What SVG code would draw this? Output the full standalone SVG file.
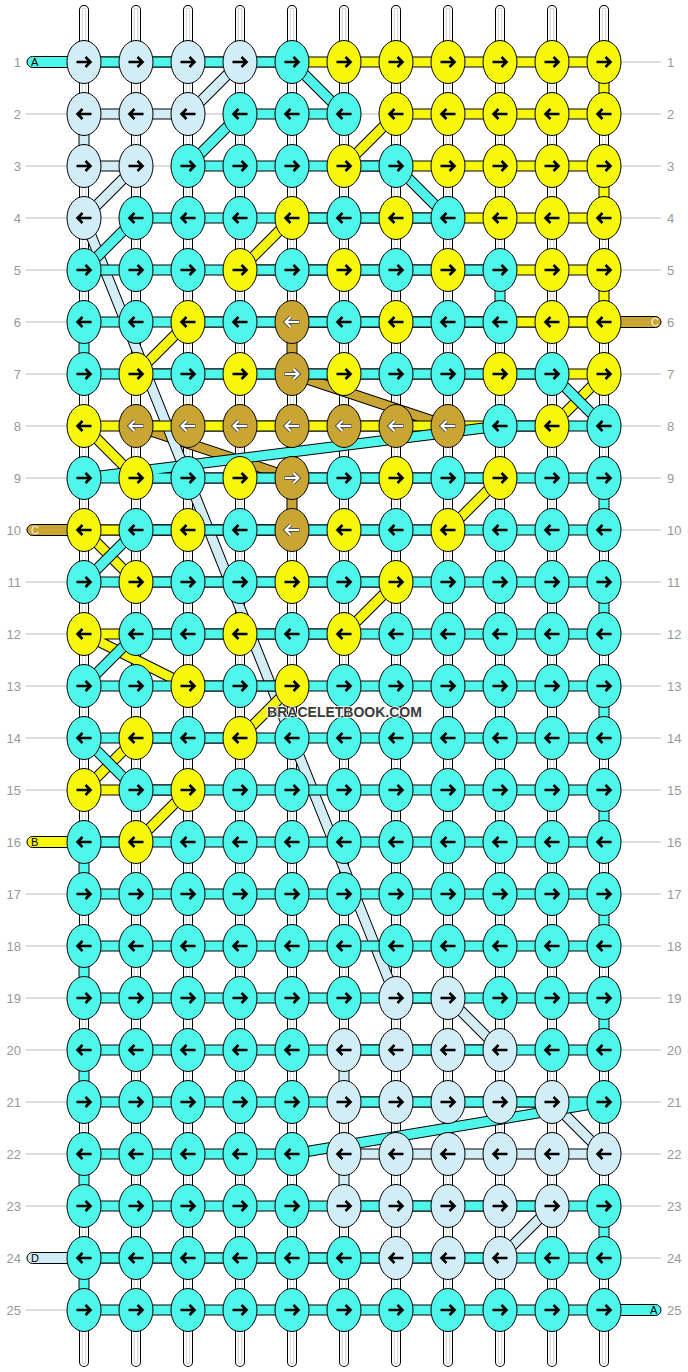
<svg xmlns="http://www.w3.org/2000/svg" xmlns:xlink="http://www.w3.org/1999/xlink" width="688" height="1372" viewBox="0 0 688 1372">
<style>
.rl{fill:none;stroke:#bdbdbd;stroke-width:1}
.num{font-family:"Liberation Sans",Arial,sans-serif;font-size:13px;fill:#999}
.w{fill:none;stroke-linecap:round}
.so{fill:none;stroke:#000;stroke-width:11;stroke-linejoin:round}
.si{fill:none;stroke-width:9;stroke-linejoin:round}
.pill{stroke:#000;stroke-width:1}
.pt{font-family:"Liberation Sans",Arial,sans-serif;font-size:11px}
.wm{font-family:"Liberation Sans",Arial,sans-serif;font-size:14px;font-weight:bold;fill:#3a3a3a;stroke:#fff;stroke-width:1.5;paint-order:stroke}
</style>
<defs>
<ellipse id="eC" rx="17" ry="21.5" fill="#4ef7ea" stroke="#000" stroke-width="1"/>
<ellipse id="eY" rx="17" ry="21.5" fill="#f7f70c" stroke="#000" stroke-width="1"/>
<ellipse id="eL" rx="17" ry="21.5" fill="#d3edf6" stroke="#000" stroke-width="1"/>
<ellipse id="eG" rx="17" ry="21.5" fill="#c9a633" stroke="#000" stroke-width="1"/>
<path id="aR" d="M-7.5,0H6M1.5,-5L6.5,0L1.5,5" fill="none" stroke="#000" stroke-width="2.6"/>
<path id="aL" d="M7.5,0H-6M-1.5,-5L-6.5,0L-1.5,5" fill="none" stroke="#000" stroke-width="2.6"/>
<g id="gR"><path d="M-7.5,0H6M1.5,-5L6.5,0L1.5,5" fill="none" stroke="#555" stroke-width="4"/><path d="M-7,0H5.5M1.5,-5L6.5,0L1.5,5" fill="none" stroke="#fff" stroke-width="2"/></g>
<g id="gL"><path d="M7.5,0H-6M-1.5,-5L-6.5,0L-1.5,5" fill="none" stroke="#555" stroke-width="4"/><path d="M7,0H-5.5M-1.5,-5L-6.5,0L-1.5,5" fill="none" stroke="#fff" stroke-width="2"/></g>
</defs>
<rect width="688" height="1372" fill="#fff"/>
<g id="guides">
<path class="rl" d="M26,62H661M26,114H661M26,166H661M26,218H661M26,270H661M26,322H661M26,374H661M26,426H661M26,478H661M26,530H661M26,582H661M26,634H661M26,686H661M26,738H661M26,790H661M26,842H661M26,894H661M26,946H661M26,998H661M26,1050H661M26,1102H661M26,1154H661M26,1206H661M26,1258H661M26,1310H661"/>
<g class="num" text-anchor="end">
<text x="21" y="66.5">1</text><text x="21" y="118.5">2</text><text x="21" y="170.5">3</text><text x="21" y="222.5">4</text><text x="21" y="274.5">5</text><text x="21" y="326.5">6</text><text x="21" y="378.5">7</text><text x="21" y="430.5">8</text><text x="21" y="482.5">9</text><text x="21" y="534.5">10</text><text x="21" y="586.5">11</text><text x="21" y="638.5">12</text><text x="21" y="690.5">13</text><text x="21" y="742.5">14</text><text x="21" y="794.5">15</text><text x="21" y="846.5">16</text><text x="21" y="898.5">17</text><text x="21" y="950.5">18</text><text x="21" y="1002.5">19</text><text x="21" y="1054.5">20</text><text x="21" y="1106.5">21</text><text x="21" y="1158.5">22</text><text x="21" y="1210.5">23</text><text x="21" y="1262.5">24</text><text x="21" y="1314.5">25</text>
</g>
<g class="num">
<text x="667" y="66.5">1</text><text x="667" y="118.5">2</text><text x="667" y="170.5">3</text><text x="667" y="222.5">4</text><text x="667" y="274.5">5</text><text x="667" y="326.5">6</text><text x="667" y="378.5">7</text><text x="667" y="430.5">8</text><text x="667" y="482.5">9</text><text x="667" y="534.5">10</text><text x="667" y="586.5">11</text><text x="667" y="638.5">12</text><text x="667" y="690.5">13</text><text x="667" y="742.5">14</text><text x="667" y="794.5">15</text><text x="667" y="846.5">16</text><text x="667" y="898.5">17</text><text x="667" y="950.5">18</text><text x="667" y="1002.5">19</text><text x="667" y="1054.5">20</text><text x="667" y="1106.5">21</text><text x="667" y="1158.5">22</text><text x="667" y="1210.5">23</text><text x="667" y="1262.5">24</text><text x="667" y="1314.5">25</text>
</g>
</g>
<g id="warps">
<path class="w" stroke="#000" stroke-width="10" d="M84,10V1362M136,10V1362M188,10V1362M240,10V1362M292,10V1362M344,10V1362M396,10V1362M448,10V1362M500,10V1362M552,10V1362M604,10V1362"/>
<path class="w" stroke="#fff" stroke-width="8" d="M84,10V1362M136,10V1362M188,10V1362M240,10V1362M292,10V1362M344,10V1362M396,10V1362M448,10V1362M500,10V1362M552,10V1362M604,10V1362"/>
<path class="w" stroke="#d0d0d0" stroke-width="4.5" d="M84,10V1362M136,10V1362M188,10V1362M240,10V1362M292,10V1362M344,10V1362M396,10V1362M448,10V1362M500,10V1362M552,10V1362M604,10V1362"/>
<path class="w" stroke="#fff" stroke-width="2.5" d="M84,10V1362M136,10V1362M188,10V1362M240,10V1362M292,10V1362M344,10V1362M396,10V1362M448,10V1362M500,10V1362M552,10V1362M604,10V1362"/>
</g>
<g id="connectors">
<g id="str-gold">
<polyline class="so" points="604,322 292,322 292,374 448,426 136,426 292,478 292,530 84,530"/>
<polyline class="si" stroke="#c9a633" points="604,322 292,322 292,374 448,426 136,426 292,478 292,530 84,530"/>
</g>
<g id="str-lightblue">
<polyline class="so" points="84,62 240,62 188,114 84,114 84,166 136,166 84,218 396,998 448,998 500,1050 344,1050 344,1102 552,1102 604,1154 344,1154 344,1206 552,1206 500,1258 396,1258 84,1258"/>
<polyline class="si" stroke="#d3edf6" points="84,62 240,62 188,114 84,114 84,166 136,166 84,218 396,998 448,998 500,1050 344,1050 344,1102 552,1102 604,1154 344,1154 344,1206 552,1206 500,1258 396,1258 84,1258"/>
</g>
<g id="str-yellow">
<polyline class="so" points="240,62 604,62 604,114 396,114 344,166 604,166 604,218 292,218 240,270 604,270 604,322 188,322 136,374 604,374 552,426 84,426 136,478 500,478 448,530 84,530 136,582 396,582 344,634 84,634 188,686 292,686 240,738 136,738 84,790 188,790 136,842 84,842"/>
<polyline class="si" stroke="#f7f70c" points="240,62 604,62 604,114 396,114 344,166 604,166 604,218 292,218 240,270 604,270 604,322 188,322 136,374 604,374 552,426 84,426 136,478 500,478 448,530 84,530 136,582 396,582 344,634 84,634 188,686 292,686 240,738 136,738 84,790 188,790 136,842 84,842"/>
</g>
<g id="str-cyan">
<polyline class="so" points="84,62 292,62 344,114 240,114 188,166 396,166 448,218 136,218 84,270 500,270 500,322 84,322 84,374 552,374 604,426 500,426 84,478 604,478 604,530 136,530 84,582 604,582 604,634 136,634 84,686 604,686 604,738 84,738 136,790 604,790 604,842 84,842 84,894 604,894 604,946 84,946 84,998 604,998 604,1050 84,1050 84,1102 604,1102 292,1154 84,1154 84,1206 604,1206 604,1258 84,1258 84,1310 604,1310"/>
<polyline class="si" stroke="#4ef7ea" points="84,62 292,62 344,114 240,114 188,166 396,166 448,218 136,218 84,270 500,270 500,322 84,322 84,374 552,374 604,426 500,426 84,478 604,478 604,530 136,530 84,582 604,582 604,634 136,634 84,686 604,686 604,738 84,738 136,790 604,790 604,842 84,842 84,894 604,894 604,946 84,946 84,998 604,998 604,1050 84,1050 84,1102 604,1102 292,1154 84,1154 84,1206 604,1206 604,1258 84,1258 84,1310 604,1310"/>
</g>
<g id="ends">
<rect class="pill" x="27" y="56.5" width="52" height="11" rx="5.5" fill="#4ef7ea"/><text class="pt" x="31" y="66">A</text>
<rect class="pill" x="27" y="524.5" width="52" height="11" rx="5.5" fill="#c9a633"/><text class="pt" x="31" y="534" fill="#f4f4f4">C</text>
<rect class="pill" x="27" y="836.5" width="52" height="11" rx="5.5" fill="#f7f70c"/><text class="pt" x="31" y="846">B</text>
<rect class="pill" x="27" y="1252.5" width="52" height="11" rx="5.5" fill="#d3edf6"/><text class="pt" x="31" y="1262">D</text>
<rect class="pill" x="598" y="316.5" width="63" height="11" rx="5.5" fill="#c9a633"/><text class="pt" x="651" y="326" fill="#f4f4f4">C</text>
<rect class="pill" x="598" y="1304.5" width="63" height="11" rx="5.5" fill="#4ef7ea"/><text class="pt" x="650" y="1314">A</text>
</g>
</g>
<g id="knots">
<g id="k1-1" transform="translate(84,62)"><use href="#eL"/><use href="#aR"/></g>
<g id="k1-2" transform="translate(136,62)"><use href="#eL"/><use href="#aR"/></g>
<g id="k1-3" transform="translate(188,62)"><use href="#eL"/><use href="#aR"/></g>
<g id="k1-4" transform="translate(240,62)"><use href="#eL"/><use href="#aR"/></g>
<g id="k1-5" transform="translate(292,62)"><use href="#eC"/><use href="#aR"/></g>
<g id="k1-6" transform="translate(344,62)"><use href="#eY"/><use href="#aR"/></g>
<g id="k1-7" transform="translate(396,62)"><use href="#eY"/><use href="#aR"/></g>
<g id="k1-8" transform="translate(448,62)"><use href="#eY"/><use href="#aR"/></g>
<g id="k1-9" transform="translate(500,62)"><use href="#eY"/><use href="#aR"/></g>
<g id="k1-10" transform="translate(552,62)"><use href="#eY"/><use href="#aR"/></g>
<g id="k1-11" transform="translate(604,62)"><use href="#eY"/><use href="#aR"/></g>

<g id="k2-1" transform="translate(84,114)"><use href="#eL"/><use href="#aL"/></g>
<g id="k2-2" transform="translate(136,114)"><use href="#eL"/><use href="#aL"/></g>
<g id="k2-3" transform="translate(188,114)"><use href="#eL"/><use href="#aL"/></g>
<g id="k2-4" transform="translate(240,114)"><use href="#eC"/><use href="#aL"/></g>
<g id="k2-5" transform="translate(292,114)"><use href="#eC"/><use href="#aL"/></g>
<g id="k2-6" transform="translate(344,114)"><use href="#eC"/><use href="#aL"/></g>
<g id="k2-7" transform="translate(396,114)"><use href="#eY"/><use href="#aL"/></g>
<g id="k2-8" transform="translate(448,114)"><use href="#eY"/><use href="#aL"/></g>
<g id="k2-9" transform="translate(500,114)"><use href="#eY"/><use href="#aL"/></g>
<g id="k2-10" transform="translate(552,114)"><use href="#eY"/><use href="#aL"/></g>
<g id="k2-11" transform="translate(604,114)"><use href="#eY"/><use href="#aL"/></g>

<g id="k3-1" transform="translate(84,166)"><use href="#eL"/><use href="#aR"/></g>
<g id="k3-2" transform="translate(136,166)"><use href="#eL"/><use href="#aR"/></g>
<g id="k3-3" transform="translate(188,166)"><use href="#eC"/><use href="#aR"/></g>
<g id="k3-4" transform="translate(240,166)"><use href="#eC"/><use href="#aR"/></g>
<g id="k3-5" transform="translate(292,166)"><use href="#eC"/><use href="#aR"/></g>
<g id="k3-6" transform="translate(344,166)"><use href="#eY"/><use href="#aR"/></g>
<g id="k3-7" transform="translate(396,166)"><use href="#eC"/><use href="#aR"/></g>
<g id="k3-8" transform="translate(448,166)"><use href="#eY"/><use href="#aR"/></g>
<g id="k3-9" transform="translate(500,166)"><use href="#eY"/><use href="#aR"/></g>
<g id="k3-10" transform="translate(552,166)"><use href="#eY"/><use href="#aR"/></g>
<g id="k3-11" transform="translate(604,166)"><use href="#eY"/><use href="#aR"/></g>

<g id="k4-1" transform="translate(84,218)"><use href="#eL"/><use href="#aL"/></g>
<g id="k4-2" transform="translate(136,218)"><use href="#eC"/><use href="#aL"/></g>
<g id="k4-3" transform="translate(188,218)"><use href="#eC"/><use href="#aL"/></g>
<g id="k4-4" transform="translate(240,218)"><use href="#eC"/><use href="#aL"/></g>
<g id="k4-5" transform="translate(292,218)"><use href="#eY"/><use href="#aL"/></g>
<g id="k4-6" transform="translate(344,218)"><use href="#eC"/><use href="#aL"/></g>
<g id="k4-7" transform="translate(396,218)"><use href="#eY"/><use href="#aL"/></g>
<g id="k4-8" transform="translate(448,218)"><use href="#eC"/><use href="#aL"/></g>
<g id="k4-9" transform="translate(500,218)"><use href="#eY"/><use href="#aL"/></g>
<g id="k4-10" transform="translate(552,218)"><use href="#eY"/><use href="#aL"/></g>
<g id="k4-11" transform="translate(604,218)"><use href="#eY"/><use href="#aL"/></g>

<g id="k5-1" transform="translate(84,270)"><use href="#eC"/><use href="#aR"/></g>
<g id="k5-2" transform="translate(136,270)"><use href="#eC"/><use href="#aR"/></g>
<g id="k5-3" transform="translate(188,270)"><use href="#eC"/><use href="#aR"/></g>
<g id="k5-4" transform="translate(240,270)"><use href="#eY"/><use href="#aR"/></g>
<g id="k5-5" transform="translate(292,270)"><use href="#eC"/><use href="#aR"/></g>
<g id="k5-6" transform="translate(344,270)"><use href="#eY"/><use href="#aR"/></g>
<g id="k5-7" transform="translate(396,270)"><use href="#eC"/><use href="#aR"/></g>
<g id="k5-8" transform="translate(448,270)"><use href="#eY"/><use href="#aR"/></g>
<g id="k5-9" transform="translate(500,270)"><use href="#eC"/><use href="#aR"/></g>
<g id="k5-10" transform="translate(552,270)"><use href="#eY"/><use href="#aR"/></g>
<g id="k5-11" transform="translate(604,270)"><use href="#eY"/><use href="#aR"/></g>

<g id="k6-1" transform="translate(84,322)"><use href="#eC"/><use href="#aL"/></g>
<g id="k6-2" transform="translate(136,322)"><use href="#eC"/><use href="#aL"/></g>
<g id="k6-3" transform="translate(188,322)"><use href="#eY"/><use href="#aL"/></g>
<g id="k6-4" transform="translate(240,322)"><use href="#eC"/><use href="#aL"/></g>
<g id="k6-5" transform="translate(292,322)"><use href="#eG"/><use href="#gL"/></g>
<g id="k6-6" transform="translate(344,322)"><use href="#eC"/><use href="#aL"/></g>
<g id="k6-7" transform="translate(396,322)"><use href="#eY"/><use href="#aL"/></g>
<g id="k6-8" transform="translate(448,322)"><use href="#eC"/><use href="#aL"/></g>
<g id="k6-9" transform="translate(500,322)"><use href="#eC"/><use href="#aL"/></g>
<g id="k6-10" transform="translate(552,322)"><use href="#eY"/><use href="#aL"/></g>
<g id="k6-11" transform="translate(604,322)"><use href="#eY"/><use href="#aL"/></g>

<g id="k7-1" transform="translate(84,374)"><use href="#eC"/><use href="#aR"/></g>
<g id="k7-2" transform="translate(136,374)"><use href="#eY"/><use href="#aR"/></g>
<g id="k7-3" transform="translate(188,374)"><use href="#eC"/><use href="#aR"/></g>
<g id="k7-4" transform="translate(240,374)"><use href="#eY"/><use href="#aR"/></g>
<g id="k7-5" transform="translate(292,374)"><use href="#eG"/><use href="#gR"/></g>
<g id="k7-6" transform="translate(344,374)"><use href="#eY"/><use href="#aR"/></g>
<g id="k7-7" transform="translate(396,374)"><use href="#eC"/><use href="#aR"/></g>
<g id="k7-8" transform="translate(448,374)"><use href="#eC"/><use href="#aR"/></g>
<g id="k7-9" transform="translate(500,374)"><use href="#eY"/><use href="#aR"/></g>
<g id="k7-10" transform="translate(552,374)"><use href="#eC"/><use href="#aR"/></g>
<g id="k7-11" transform="translate(604,374)"><use href="#eY"/><use href="#aR"/></g>

<g id="k8-1" transform="translate(84,426)"><use href="#eY"/><use href="#aL"/></g>
<g id="k8-2" transform="translate(136,426)"><use href="#eG"/><use href="#gL"/></g>
<g id="k8-3" transform="translate(188,426)"><use href="#eG"/><use href="#gL"/></g>
<g id="k8-4" transform="translate(240,426)"><use href="#eG"/><use href="#gL"/></g>
<g id="k8-5" transform="translate(292,426)"><use href="#eG"/><use href="#gL"/></g>
<g id="k8-6" transform="translate(344,426)"><use href="#eG"/><use href="#gL"/></g>
<g id="k8-7" transform="translate(396,426)"><use href="#eG"/><use href="#gL"/></g>
<g id="k8-8" transform="translate(448,426)"><use href="#eG"/><use href="#gL"/></g>
<g id="k8-9" transform="translate(500,426)"><use href="#eC"/><use href="#aL"/></g>
<g id="k8-10" transform="translate(552,426)"><use href="#eY"/><use href="#aL"/></g>
<g id="k8-11" transform="translate(604,426)"><use href="#eC"/><use href="#aL"/></g>

<g id="k9-1" transform="translate(84,478)"><use href="#eC"/><use href="#aR"/></g>
<g id="k9-2" transform="translate(136,478)"><use href="#eY"/><use href="#aR"/></g>
<g id="k9-3" transform="translate(188,478)"><use href="#eC"/><use href="#aR"/></g>
<g id="k9-4" transform="translate(240,478)"><use href="#eY"/><use href="#aR"/></g>
<g id="k9-5" transform="translate(292,478)"><use href="#eG"/><use href="#gR"/></g>
<g id="k9-6" transform="translate(344,478)"><use href="#eC"/><use href="#aR"/></g>
<g id="k9-7" transform="translate(396,478)"><use href="#eY"/><use href="#aR"/></g>
<g id="k9-8" transform="translate(448,478)"><use href="#eC"/><use href="#aR"/></g>
<g id="k9-9" transform="translate(500,478)"><use href="#eY"/><use href="#aR"/></g>
<g id="k9-10" transform="translate(552,478)"><use href="#eC"/><use href="#aR"/></g>
<g id="k9-11" transform="translate(604,478)"><use href="#eC"/><use href="#aR"/></g>

<g id="k10-1" transform="translate(84,530)"><use href="#eY"/><use href="#aL"/></g>
<g id="k10-2" transform="translate(136,530)"><use href="#eC"/><use href="#aL"/></g>
<g id="k10-3" transform="translate(188,530)"><use href="#eY"/><use href="#aL"/></g>
<g id="k10-4" transform="translate(240,530)"><use href="#eC"/><use href="#aL"/></g>
<g id="k10-5" transform="translate(292,530)"><use href="#eG"/><use href="#gL"/></g>
<g id="k10-6" transform="translate(344,530)"><use href="#eY"/><use href="#aL"/></g>
<g id="k10-7" transform="translate(396,530)"><use href="#eC"/><use href="#aL"/></g>
<g id="k10-8" transform="translate(448,530)"><use href="#eY"/><use href="#aL"/></g>
<g id="k10-9" transform="translate(500,530)"><use href="#eC"/><use href="#aL"/></g>
<g id="k10-10" transform="translate(552,530)"><use href="#eC"/><use href="#aL"/></g>
<g id="k10-11" transform="translate(604,530)"><use href="#eC"/><use href="#aL"/></g>

<g id="k11-1" transform="translate(84,582)"><use href="#eC"/><use href="#aR"/></g>
<g id="k11-2" transform="translate(136,582)"><use href="#eY"/><use href="#aR"/></g>
<g id="k11-3" transform="translate(188,582)"><use href="#eC"/><use href="#aR"/></g>
<g id="k11-4" transform="translate(240,582)"><use href="#eC"/><use href="#aR"/></g>
<g id="k11-5" transform="translate(292,582)"><use href="#eY"/><use href="#aR"/></g>
<g id="k11-6" transform="translate(344,582)"><use href="#eC"/><use href="#aR"/></g>
<g id="k11-7" transform="translate(396,582)"><use href="#eY"/><use href="#aR"/></g>
<g id="k11-8" transform="translate(448,582)"><use href="#eC"/><use href="#aR"/></g>
<g id="k11-9" transform="translate(500,582)"><use href="#eC"/><use href="#aR"/></g>
<g id="k11-10" transform="translate(552,582)"><use href="#eC"/><use href="#aR"/></g>
<g id="k11-11" transform="translate(604,582)"><use href="#eC"/><use href="#aR"/></g>

<g id="k12-1" transform="translate(84,634)"><use href="#eY"/><use href="#aL"/></g>
<g id="k12-2" transform="translate(136,634)"><use href="#eC"/><use href="#aL"/></g>
<g id="k12-3" transform="translate(188,634)"><use href="#eC"/><use href="#aL"/></g>
<g id="k12-4" transform="translate(240,634)"><use href="#eY"/><use href="#aL"/></g>
<g id="k12-5" transform="translate(292,634)"><use href="#eC"/><use href="#aL"/></g>
<g id="k12-6" transform="translate(344,634)"><use href="#eY"/><use href="#aL"/></g>
<g id="k12-7" transform="translate(396,634)"><use href="#eC"/><use href="#aL"/></g>
<g id="k12-8" transform="translate(448,634)"><use href="#eC"/><use href="#aL"/></g>
<g id="k12-9" transform="translate(500,634)"><use href="#eC"/><use href="#aL"/></g>
<g id="k12-10" transform="translate(552,634)"><use href="#eC"/><use href="#aL"/></g>
<g id="k12-11" transform="translate(604,634)"><use href="#eC"/><use href="#aL"/></g>

<g id="k13-1" transform="translate(84,686)"><use href="#eC"/><use href="#aR"/></g>
<g id="k13-2" transform="translate(136,686)"><use href="#eC"/><use href="#aR"/></g>
<g id="k13-3" transform="translate(188,686)"><use href="#eY"/><use href="#aR"/></g>
<g id="k13-4" transform="translate(240,686)"><use href="#eC"/><use href="#aR"/></g>
<g id="k13-5" transform="translate(292,686)"><use href="#eY"/><use href="#aR"/></g>
<g id="k13-6" transform="translate(344,686)"><use href="#eC"/><use href="#aR"/></g>
<g id="k13-7" transform="translate(396,686)"><use href="#eC"/><use href="#aR"/></g>
<g id="k13-8" transform="translate(448,686)"><use href="#eC"/><use href="#aR"/></g>
<g id="k13-9" transform="translate(500,686)"><use href="#eC"/><use href="#aR"/></g>
<g id="k13-10" transform="translate(552,686)"><use href="#eC"/><use href="#aR"/></g>
<g id="k13-11" transform="translate(604,686)"><use href="#eC"/><use href="#aR"/></g>

<g id="k14-1" transform="translate(84,738)"><use href="#eC"/><use href="#aL"/></g>
<g id="k14-2" transform="translate(136,738)"><use href="#eY"/><use href="#aL"/></g>
<g id="k14-3" transform="translate(188,738)"><use href="#eC"/><use href="#aL"/></g>
<g id="k14-4" transform="translate(240,738)"><use href="#eY"/><use href="#aL"/></g>
<g id="k14-5" transform="translate(292,738)"><use href="#eC"/><use href="#aL"/></g>
<g id="k14-6" transform="translate(344,738)"><use href="#eC"/><use href="#aL"/></g>
<g id="k14-7" transform="translate(396,738)"><use href="#eC"/><use href="#aL"/></g>
<g id="k14-8" transform="translate(448,738)"><use href="#eC"/><use href="#aL"/></g>
<g id="k14-9" transform="translate(500,738)"><use href="#eC"/><use href="#aL"/></g>
<g id="k14-10" transform="translate(552,738)"><use href="#eC"/><use href="#aL"/></g>
<g id="k14-11" transform="translate(604,738)"><use href="#eC"/><use href="#aL"/></g>

<g id="k15-1" transform="translate(84,790)"><use href="#eY"/><use href="#aR"/></g>
<g id="k15-2" transform="translate(136,790)"><use href="#eC"/><use href="#aR"/></g>
<g id="k15-3" transform="translate(188,790)"><use href="#eY"/><use href="#aR"/></g>
<g id="k15-4" transform="translate(240,790)"><use href="#eC"/><use href="#aR"/></g>
<g id="k15-5" transform="translate(292,790)"><use href="#eC"/><use href="#aR"/></g>
<g id="k15-6" transform="translate(344,790)"><use href="#eC"/><use href="#aR"/></g>
<g id="k15-7" transform="translate(396,790)"><use href="#eC"/><use href="#aR"/></g>
<g id="k15-8" transform="translate(448,790)"><use href="#eC"/><use href="#aR"/></g>
<g id="k15-9" transform="translate(500,790)"><use href="#eC"/><use href="#aR"/></g>
<g id="k15-10" transform="translate(552,790)"><use href="#eC"/><use href="#aR"/></g>
<g id="k15-11" transform="translate(604,790)"><use href="#eC"/><use href="#aR"/></g>

<g id="k16-1" transform="translate(84,842)"><use href="#eC"/><use href="#aL"/></g>
<g id="k16-2" transform="translate(136,842)"><use href="#eY"/><use href="#aL"/></g>
<g id="k16-3" transform="translate(188,842)"><use href="#eC"/><use href="#aL"/></g>
<g id="k16-4" transform="translate(240,842)"><use href="#eC"/><use href="#aL"/></g>
<g id="k16-5" transform="translate(292,842)"><use href="#eC"/><use href="#aL"/></g>
<g id="k16-6" transform="translate(344,842)"><use href="#eC"/><use href="#aL"/></g>
<g id="k16-7" transform="translate(396,842)"><use href="#eC"/><use href="#aL"/></g>
<g id="k16-8" transform="translate(448,842)"><use href="#eC"/><use href="#aL"/></g>
<g id="k16-9" transform="translate(500,842)"><use href="#eC"/><use href="#aL"/></g>
<g id="k16-10" transform="translate(552,842)"><use href="#eC"/><use href="#aL"/></g>
<g id="k16-11" transform="translate(604,842)"><use href="#eC"/><use href="#aL"/></g>

<g id="k17-1" transform="translate(84,894)"><use href="#eC"/><use href="#aR"/></g>
<g id="k17-2" transform="translate(136,894)"><use href="#eC"/><use href="#aR"/></g>
<g id="k17-3" transform="translate(188,894)"><use href="#eC"/><use href="#aR"/></g>
<g id="k17-4" transform="translate(240,894)"><use href="#eC"/><use href="#aR"/></g>
<g id="k17-5" transform="translate(292,894)"><use href="#eC"/><use href="#aR"/></g>
<g id="k17-6" transform="translate(344,894)"><use href="#eC"/><use href="#aR"/></g>
<g id="k17-7" transform="translate(396,894)"><use href="#eC"/><use href="#aR"/></g>
<g id="k17-8" transform="translate(448,894)"><use href="#eC"/><use href="#aR"/></g>
<g id="k17-9" transform="translate(500,894)"><use href="#eC"/><use href="#aR"/></g>
<g id="k17-10" transform="translate(552,894)"><use href="#eC"/><use href="#aR"/></g>
<g id="k17-11" transform="translate(604,894)"><use href="#eC"/><use href="#aR"/></g>

<g id="k18-1" transform="translate(84,946)"><use href="#eC"/><use href="#aL"/></g>
<g id="k18-2" transform="translate(136,946)"><use href="#eC"/><use href="#aL"/></g>
<g id="k18-3" transform="translate(188,946)"><use href="#eC"/><use href="#aL"/></g>
<g id="k18-4" transform="translate(240,946)"><use href="#eC"/><use href="#aL"/></g>
<g id="k18-5" transform="translate(292,946)"><use href="#eC"/><use href="#aL"/></g>
<g id="k18-6" transform="translate(344,946)"><use href="#eC"/><use href="#aL"/></g>
<g id="k18-7" transform="translate(396,946)"><use href="#eC"/><use href="#aL"/></g>
<g id="k18-8" transform="translate(448,946)"><use href="#eC"/><use href="#aL"/></g>
<g id="k18-9" transform="translate(500,946)"><use href="#eC"/><use href="#aL"/></g>
<g id="k18-10" transform="translate(552,946)"><use href="#eC"/><use href="#aL"/></g>
<g id="k18-11" transform="translate(604,946)"><use href="#eC"/><use href="#aL"/></g>

<g id="k19-1" transform="translate(84,998)"><use href="#eC"/><use href="#aR"/></g>
<g id="k19-2" transform="translate(136,998)"><use href="#eC"/><use href="#aR"/></g>
<g id="k19-3" transform="translate(188,998)"><use href="#eC"/><use href="#aR"/></g>
<g id="k19-4" transform="translate(240,998)"><use href="#eC"/><use href="#aR"/></g>
<g id="k19-5" transform="translate(292,998)"><use href="#eC"/><use href="#aR"/></g>
<g id="k19-6" transform="translate(344,998)"><use href="#eC"/><use href="#aR"/></g>
<g id="k19-7" transform="translate(396,998)"><use href="#eL"/><use href="#aR"/></g>
<g id="k19-8" transform="translate(448,998)"><use href="#eL"/><use href="#aR"/></g>
<g id="k19-9" transform="translate(500,998)"><use href="#eC"/><use href="#aR"/></g>
<g id="k19-10" transform="translate(552,998)"><use href="#eC"/><use href="#aR"/></g>
<g id="k19-11" transform="translate(604,998)"><use href="#eC"/><use href="#aR"/></g>

<g id="k20-1" transform="translate(84,1050)"><use href="#eC"/><use href="#aL"/></g>
<g id="k20-2" transform="translate(136,1050)"><use href="#eC"/><use href="#aL"/></g>
<g id="k20-3" transform="translate(188,1050)"><use href="#eC"/><use href="#aL"/></g>
<g id="k20-4" transform="translate(240,1050)"><use href="#eC"/><use href="#aL"/></g>
<g id="k20-5" transform="translate(292,1050)"><use href="#eC"/><use href="#aL"/></g>
<g id="k20-6" transform="translate(344,1050)"><use href="#eL"/><use href="#aL"/></g>
<g id="k20-7" transform="translate(396,1050)"><use href="#eL"/><use href="#aL"/></g>
<g id="k20-8" transform="translate(448,1050)"><use href="#eL"/><use href="#aL"/></g>
<g id="k20-9" transform="translate(500,1050)"><use href="#eL"/><use href="#aL"/></g>
<g id="k20-10" transform="translate(552,1050)"><use href="#eC"/><use href="#aL"/></g>
<g id="k20-11" transform="translate(604,1050)"><use href="#eC"/><use href="#aL"/></g>

<g id="k21-1" transform="translate(84,1102)"><use href="#eC"/><use href="#aR"/></g>
<g id="k21-2" transform="translate(136,1102)"><use href="#eC"/><use href="#aR"/></g>
<g id="k21-3" transform="translate(188,1102)"><use href="#eC"/><use href="#aR"/></g>
<g id="k21-4" transform="translate(240,1102)"><use href="#eC"/><use href="#aR"/></g>
<g id="k21-5" transform="translate(292,1102)"><use href="#eC"/><use href="#aR"/></g>
<g id="k21-6" transform="translate(344,1102)"><use href="#eL"/><use href="#aR"/></g>
<g id="k21-7" transform="translate(396,1102)"><use href="#eL"/><use href="#aR"/></g>
<g id="k21-8" transform="translate(448,1102)"><use href="#eL"/><use href="#aR"/></g>
<g id="k21-9" transform="translate(500,1102)"><use href="#eL"/><use href="#aR"/></g>
<g id="k21-10" transform="translate(552,1102)"><use href="#eL"/><use href="#aR"/></g>
<g id="k21-11" transform="translate(604,1102)"><use href="#eC"/><use href="#aR"/></g>

<g id="k22-1" transform="translate(84,1154)"><use href="#eC"/><use href="#aL"/></g>
<g id="k22-2" transform="translate(136,1154)"><use href="#eC"/><use href="#aL"/></g>
<g id="k22-3" transform="translate(188,1154)"><use href="#eC"/><use href="#aL"/></g>
<g id="k22-4" transform="translate(240,1154)"><use href="#eC"/><use href="#aL"/></g>
<g id="k22-5" transform="translate(292,1154)"><use href="#eC"/><use href="#aL"/></g>
<g id="k22-6" transform="translate(344,1154)"><use href="#eL"/><use href="#aL"/></g>
<g id="k22-7" transform="translate(396,1154)"><use href="#eL"/><use href="#aL"/></g>
<g id="k22-8" transform="translate(448,1154)"><use href="#eL"/><use href="#aL"/></g>
<g id="k22-9" transform="translate(500,1154)"><use href="#eL"/><use href="#aL"/></g>
<g id="k22-10" transform="translate(552,1154)"><use href="#eL"/><use href="#aL"/></g>
<g id="k22-11" transform="translate(604,1154)"><use href="#eL"/><use href="#aL"/></g>

<g id="k23-1" transform="translate(84,1206)"><use href="#eC"/><use href="#aR"/></g>
<g id="k23-2" transform="translate(136,1206)"><use href="#eC"/><use href="#aR"/></g>
<g id="k23-3" transform="translate(188,1206)"><use href="#eC"/><use href="#aR"/></g>
<g id="k23-4" transform="translate(240,1206)"><use href="#eC"/><use href="#aR"/></g>
<g id="k23-5" transform="translate(292,1206)"><use href="#eC"/><use href="#aR"/></g>
<g id="k23-6" transform="translate(344,1206)"><use href="#eL"/><use href="#aR"/></g>
<g id="k23-7" transform="translate(396,1206)"><use href="#eL"/><use href="#aR"/></g>
<g id="k23-8" transform="translate(448,1206)"><use href="#eL"/><use href="#aR"/></g>
<g id="k23-9" transform="translate(500,1206)"><use href="#eL"/><use href="#aR"/></g>
<g id="k23-10" transform="translate(552,1206)"><use href="#eL"/><use href="#aR"/></g>
<g id="k23-11" transform="translate(604,1206)"><use href="#eC"/><use href="#aR"/></g>

<g id="k24-1" transform="translate(84,1258)"><use href="#eC"/><use href="#aL"/></g>
<g id="k24-2" transform="translate(136,1258)"><use href="#eC"/><use href="#aL"/></g>
<g id="k24-3" transform="translate(188,1258)"><use href="#eC"/><use href="#aL"/></g>
<g id="k24-4" transform="translate(240,1258)"><use href="#eC"/><use href="#aL"/></g>
<g id="k24-5" transform="translate(292,1258)"><use href="#eC"/><use href="#aL"/></g>
<g id="k24-6" transform="translate(344,1258)"><use href="#eC"/><use href="#aL"/></g>
<g id="k24-7" transform="translate(396,1258)"><use href="#eL"/><use href="#aL"/></g>
<g id="k24-8" transform="translate(448,1258)"><use href="#eL"/><use href="#aL"/></g>
<g id="k24-9" transform="translate(500,1258)"><use href="#eL"/><use href="#aL"/></g>
<g id="k24-10" transform="translate(552,1258)"><use href="#eC"/><use href="#aL"/></g>
<g id="k24-11" transform="translate(604,1258)"><use href="#eC"/><use href="#aL"/></g>

<g id="k25-1" transform="translate(84,1310)"><use href="#eC"/><use href="#aR"/></g>
<g id="k25-2" transform="translate(136,1310)"><use href="#eC"/><use href="#aR"/></g>
<g id="k25-3" transform="translate(188,1310)"><use href="#eC"/><use href="#aR"/></g>
<g id="k25-4" transform="translate(240,1310)"><use href="#eC"/><use href="#aR"/></g>
<g id="k25-5" transform="translate(292,1310)"><use href="#eC"/><use href="#aR"/></g>
<g id="k25-6" transform="translate(344,1310)"><use href="#eC"/><use href="#aR"/></g>
<g id="k25-7" transform="translate(396,1310)"><use href="#eC"/><use href="#aR"/></g>
<g id="k25-8" transform="translate(448,1310)"><use href="#eC"/><use href="#aR"/></g>
<g id="k25-9" transform="translate(500,1310)"><use href="#eC"/><use href="#aR"/></g>
<g id="k25-10" transform="translate(552,1310)"><use href="#eC"/><use href="#aR"/></g>
<g id="k25-11" transform="translate(604,1310)"><use href="#eC"/><use href="#aR"/></g>
</g>
<text class="wm" x="344.5" y="717" text-anchor="middle">BRACELETBOOK.COM</text>
</svg>
